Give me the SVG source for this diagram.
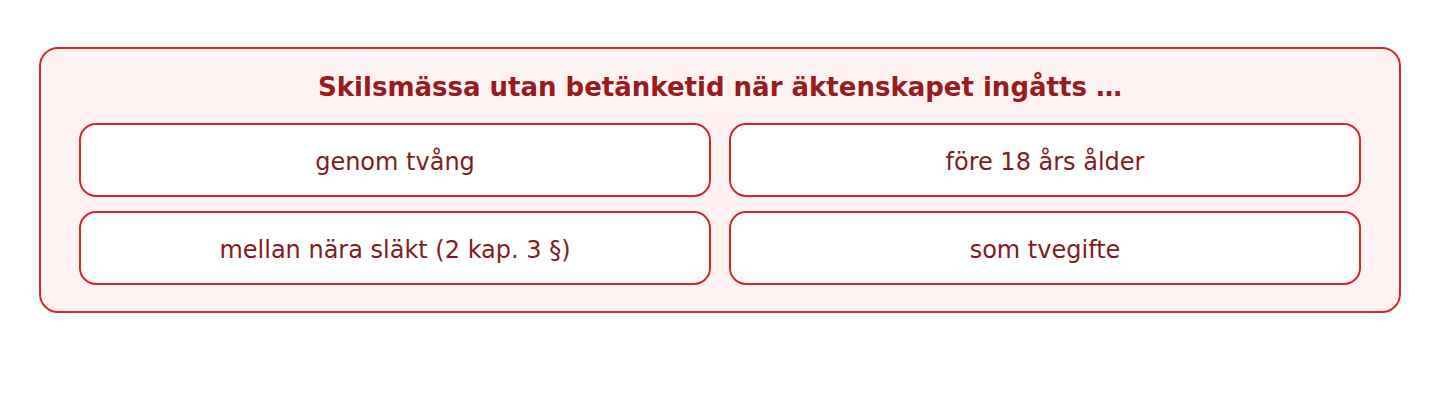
<svg xmlns="http://www.w3.org/2000/svg" width="1440" height="400" viewBox="0 0 1440 400">
<style>
.outer{fill:#fef2f2;stroke:#dc2626;stroke-width:2}
.box{fill:#ffffff;stroke:#dc2626;stroke-width:2}
.title{font-family:"DejaVu Sans",sans-serif;font-weight:bold;font-size:26px;fill:#991b1b;text-anchor:middle}
.lbl{font-family:"DejaVu Sans",sans-serif;font-size:24px;fill:#7f1d1d;text-anchor:middle;dominant-baseline:central}
</style>
<rect width="1440" height="400" fill="#ffffff"/>
<g id="container">
<rect class="outer" x="40" y="48" width="1360" height="264" rx="18"/>
<text class="title" x="720" y="96">Skilsmässa utan betänketid när äktenskapet ingåtts …</text>
</g>
<g id="n1"><rect class="box" x="80" y="124" width="630" height="72" rx="16"/><text class="lbl" x="395" y="162">genom tvång</text></g>
<g id="n2"><rect class="box" x="730" y="124" width="630" height="72" rx="16"/><text class="lbl" x="1045" y="162">före 18 års ålder</text></g>
<g id="n3"><rect class="box" x="80" y="212" width="630" height="72" rx="16"/><text class="lbl" x="395" y="250">mellan nära släkt (2 kap. 3 §)</text></g>
<g id="n4"><rect class="box" x="730" y="212" width="630" height="72" rx="16"/><text class="lbl" x="1045" y="250">som tvegifte</text></g>
<g id="connectors"></g>
</svg>
